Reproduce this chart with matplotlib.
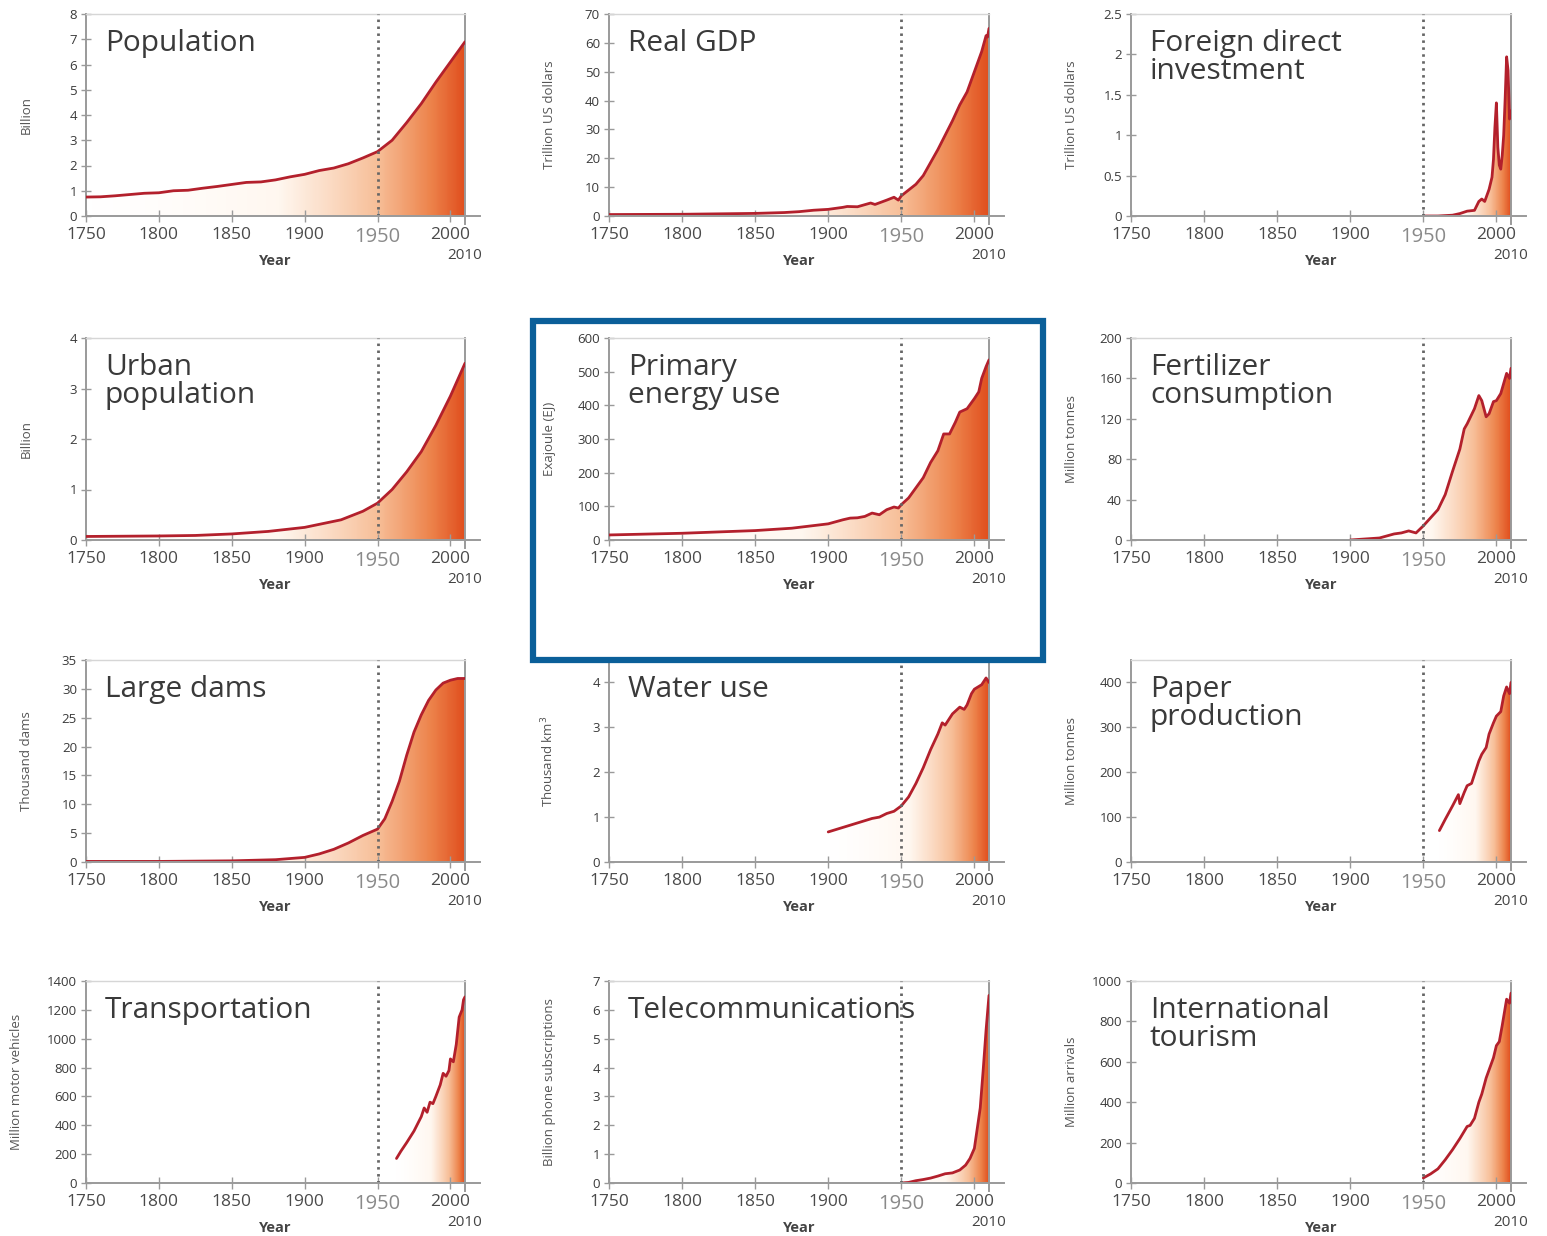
import numpy as np
import matplotlib
matplotlib.use("Agg")
import matplotlib.pyplot as plt
from matplotlib.colors import LinearSegmentedColormap
from matplotlib.patches import Rectangle

plt.rcParams['font.family'] = ['Open Sans', 'DejaVu Sans']

# ---- data ----
pop_years = [1750, 1760, 1770, 1780, 1790, 1800, 1810, 1820, 1830, 1840, 1850, 1860, 1870,
             1880, 1890, 1900, 1910, 1920, 1930, 1940, 1950, 1960, 1970, 1980, 1990, 2000, 2010]
pop_vals = [0.75, 0.76, 0.8, 0.85, 0.9, 0.92, 1.0, 1.02, 1.1, 1.17, 1.25, 1.33, 1.35,
            1.43, 1.55, 1.65, 1.8, 1.9, 2.07, 2.3, 2.55, 3.0, 3.7, 4.45, 5.3, 6.1, 6.9]

gdp_years = [1750, 1800, 1850, 1870, 1880, 1890, 1900, 1910, 1913, 1920, 1929, 1932, 1940, 1945,
             1948, 1950, 1955, 1960, 1965, 1970, 1975, 1980, 1985, 1990, 1995, 2000, 2005, 2008, 2009, 2010]
gdp_vals = [0.5, 0.6, 0.9, 1.2, 1.5, 2.0, 2.3, 3.0, 3.3, 3.2, 4.5, 4.0, 5.5, 6.5,
            5.5, 7.0, 9.0, 11.0, 14.0, 18.5, 23.0, 28.0, 33.0, 38.5, 43.0, 50.0, 57.0, 62.5, 62.0, 65.0]

fdi_years = [1950, 1960, 1970, 1975, 1980, 1985, 1988, 1990, 1992, 1995, 1997, 1998, 1999, 2000,
             2001, 2002, 2003, 2004, 2005, 2006, 2007, 2008, 2009, 2010]
fdi_vals = [0.0, 0.0, 0.01, 0.03, 0.06, 0.07, 0.18, 0.21, 0.18, 0.33, 0.48, 0.7, 1.1, 1.4,
            0.85, 0.63, 0.58, 0.75, 1.0, 1.45, 1.97, 1.8, 1.2, 1.3]

urban_years = [1750, 1800, 1825, 1850, 1875, 1900, 1925, 1940, 1950, 1960, 1970, 1980, 1990, 2000, 2010]
urban_vals = [0.07, 0.08, 0.09, 0.12, 0.17, 0.25, 0.4, 0.57, 0.73, 1.0, 1.35, 1.75, 2.27, 2.85, 3.5]

energy_years = [1750, 1800, 1850, 1875, 1900, 1910, 1915, 1920, 1925, 1930, 1935, 1940, 1945, 1948,
                1950, 1955, 1960, 1965, 1970, 1975, 1979, 1983, 1987, 1990, 1995, 2000, 2003, 2005, 2008, 2010]
energy_vals = [15, 20, 28, 35, 48, 60, 65, 66, 70, 80, 75, 90, 98, 95,
               105, 125, 155, 185, 230, 265, 315, 315, 350, 380, 390, 420, 440, 480, 515, 535]

fert_years = [1900, 1910, 1920, 1930, 1935, 1940, 1945, 1950, 1955, 1960, 1965, 1970, 1975, 1978,
              1980, 1985, 1988, 1990, 1993, 1995, 1998, 2000, 2003, 2005, 2007, 2009, 2010]
fert_vals = [0, 1, 2, 6, 7, 9, 7, 14, 22, 30, 45, 68, 90, 110,
             115, 130, 143, 138, 122, 125, 137, 138, 145, 155, 165, 160, 170]

dams_years = [1750, 1800, 1850, 1880, 1900, 1910, 1920, 1930, 1940, 1950, 1955, 1960, 1965, 1970,
              1975, 1980, 1985, 1990, 1995, 2000, 2005, 2010]
dams_vals = [0.1, 0.1, 0.2, 0.4, 0.8, 1.4, 2.2, 3.3, 4.6, 5.7, 7.5, 10.5, 14.0, 18.5,
             22.5, 25.5, 28.0, 29.8, 31.0, 31.5, 31.8, 31.8]

water_years = [1900, 1905, 1910, 1915, 1920, 1925, 1930, 1935, 1940, 1945, 1950, 1955, 1960, 1965,
               1970, 1975, 1978, 1980, 1985, 1990, 1993, 1995, 1998, 2000, 2005, 2008, 2010]
water_vals = [0.67, 0.72, 0.77, 0.82, 0.87, 0.92, 0.97, 1.0, 1.08, 1.13, 1.25, 1.45, 1.75, 2.1,
              2.5, 2.85, 3.1, 3.05, 3.3, 3.45, 3.4, 3.5, 3.75, 3.85, 3.95, 4.1, 4.0]

paper_years = [1961, 1965, 1970, 1974, 1975, 1978, 1980, 1983, 1985, 1988, 1990, 1993, 1995, 1998,
               2000, 2003, 2005, 2007, 2009, 2010]
paper_vals = [70, 95, 125, 150, 130, 155, 170, 175, 195, 225, 240, 255, 285, 310,
              325, 335, 370, 390, 375, 400]

trans_years = [1963, 1966, 1970, 1975, 1980, 1982, 1984, 1986, 1988, 1990, 1993, 1995, 1997, 1999,
               2000, 2002, 2004, 2006, 2008, 2009, 2010]
trans_vals = [170, 220, 280, 360, 460, 520, 490, 560, 550, 600, 680, 760, 740, 780,
              860, 840, 960, 1150, 1200, 1270, 1290]

tele_years = [1950, 1955, 1960, 1965, 1970, 1975, 1980, 1985, 1990, 1994, 1997, 2000, 2002, 2004,
              2006, 2008, 2010]
tele_vals = [0.0, 0.02, 0.08, 0.12, 0.17, 0.24, 0.32, 0.35, 0.45, 0.62, 0.85, 1.2, 1.9, 2.6,
             3.9, 5.3, 6.5]

tour_years = [1950, 1955, 1960, 1965, 1970, 1975, 1980, 1982, 1985, 1988, 1990, 1993, 1995, 1998,
              2000, 2002, 2004, 2007, 2009, 2010]
tour_vals = [25, 45, 70, 115, 165, 220, 280, 285, 320, 400, 440, 520, 560, 620,
             680, 700, 780, 910, 890, 940]

titles = ['Population', 'Real GDP', 'Foreign direct\ninvestment',
          'Urban\npopulation', 'Primary\nenergy use', 'Fertilizer\nconsumption',
          'Large dams', 'Water use', 'Paper\nproduction',
          'Transportation', 'Telecommunications', 'International\ntourism']
ylabels = ['Billion', 'Trillion US dollars', 'Trillion US dollars',
           'Billion', 'Exajoule (EJ)', 'Million tonnes',
           'Thousand dams', 'Thousand km$^3$', 'Million tonnes',
           'Million motor vehicles', 'Billion phone subscriptions', 'Million arrivals']
year_series = [pop_years, gdp_years, fdi_years, urban_years, energy_years, fert_years,
               dams_years, water_years, paper_years, trans_years, tele_years, tour_years]
value_series = [pop_vals, gdp_vals, fdi_vals, urban_vals, energy_vals, fert_vals,
                dams_vals, water_vals, paper_vals, trans_vals, tele_vals, tour_vals]
ytops = [8, 70, 2.5, 4, 600, 200, 35, 4.5, 450, 1400, 7, 1000]
ysteps = [1, 10, 0.5, 1, 100, 40, 5, 1, 100, 200, 1, 200]
ytick_tops = [8, 70, 2.5, 4, 600, 200, 35, 4, 400, 1400, 7, 1000]
x_ticks = [1750, 1800, 1850, 1900, 1950, 2000]

# ---- styling ----
W, H = 1547, 1236
fig = plt.figure(figsize=(W / 100, H / 100), dpi=100)
fig.patch.set_facecolor('white')

col_left = [86, 609, 1131]
col_w = [379, 380, 380]
row_top = [14, 338, 660, 981]
row_h = 202

grad = LinearSegmentedColormap.from_list('grad', [
    (0.0, (1, 1, 1)), (0.4, (1.0, 0.97, 0.94)), (0.7, (0.97, 0.75, 0.60)),
    (0.88, (0.93, 0.52, 0.30)), (1.0, (0.88, 0.31, 0.12))])
line_col = '#b3202c'
txt_col = '#3a3a3a'

for i in range(12):
    r, c = divmod(i, 3)
    x0 = col_left[c] / W
    y0 = 1 - (row_top[r] + row_h) / H
    ax = fig.add_axes([x0, y0, col_w[c] / W, row_h / H])
    yrs = np.array(year_series[i], dtype=float)
    vals = np.array(value_series[i], dtype=float)

    # gradient fill under the curve
    poly = ax.fill_between(yrs, vals, 0, facecolor='none', edgecolor='none')
    xs = np.linspace(0, 1, 300)
    img = grad(xs ** 1.35)[None, :, :]
    im = ax.imshow(img, extent=(yrs[0], 2010, 0, ytops[i]), aspect='auto',
                   origin='lower', zorder=1, interpolation='bilinear')
    im.set_clip_path(poly.get_paths()[0], transform=ax.transData)
    ax.set_xlim(1750, 2010)
    ax.set_ylim(0, ytops[i])

    ax.plot(yrs, vals, color=line_col, lw=2.0, zorder=3, solid_capstyle='round')
    ax.axvline(1950, color='#666666', lw=2.0, linestyle=(0, (0.9, 1.6)), zorder=4)

    # frame
    ax.spines['top'].set_color('#d6d6d6')
    ax.spines['top'].set_linewidth(1.0)
    ax.spines['right'].set_color('#9a9a9a')
    ax.spines['right'].set_linewidth(1.4)
    ax.spines['left'].set_color('#9a9a9a')
    ax.spines['left'].set_linewidth(1.4)
    ax.spines['bottom'].set_visible(False)
    ax.plot([0, 1.04], [0, 0], transform=ax.transAxes, color='#9a9a9a', lw=1.4,
            clip_on=False, zorder=5)
    ax.plot([1, 1], [0, -0.04], transform=ax.transAxes, color='#9a9a9a', lw=1.4,
            clip_on=False, zorder=5)

    yt = np.arange(0, ytick_tops[i] + ysteps[i] / 2, ysteps[i])
    ax.set_yticks(yt)
    ax.set_yticklabels(['%g' % v for v in yt])
    ax.set_xticks(x_ticks)
    ax.set_xticklabels([str(v) for v in x_ticks])
    ax.tick_params(axis='y', direction='inout', length=7, width=1, color='#9a9a9a',
                   labelsize=9.5, labelcolor=txt_col, pad=3)
    ax.tick_params(axis='x', direction='inout', length=8, width=1, color='#9a9a9a',
                   labelsize=12.5, labelcolor='#4a4a4a', pad=4)
    lab1950 = ax.get_xticklabels()[4]
    lab1950.set_fontsize(14.5)
    lab1950.set_color('#8a8a8a')

    ax.text(1.0, -0.16, '2010', transform=ax.transAxes, ha='center', va='top',
            fontsize=11, color='#444444')
    ax.set_xlabel('Year', fontsize=10.5, fontweight='bold', color='#444444', labelpad=5)
    ax.set_ylabel(ylabels[i], fontsize=9.5, color='#555555')
    ax.yaxis.set_label_coords(-0.165 if i == 9 else -0.14, 0.5)

    ax.text(0.05, 0.925, titles[i], transform=ax.transAxes, ha='left', va='top',
            fontsize=21.5, color=txt_col, linespacing=0.93, zorder=6)

# highlight box around the energy panel
fig.patches.append(Rectangle((533 / W, 1 - 660 / H), 510 / W, 339 / H,
                             transform=fig.transFigure, fill=False,
                             edgecolor='#0b5f99', lw=4.5, zorder=10))

fig.savefig('out.png', dpi=100, facecolor='white')
